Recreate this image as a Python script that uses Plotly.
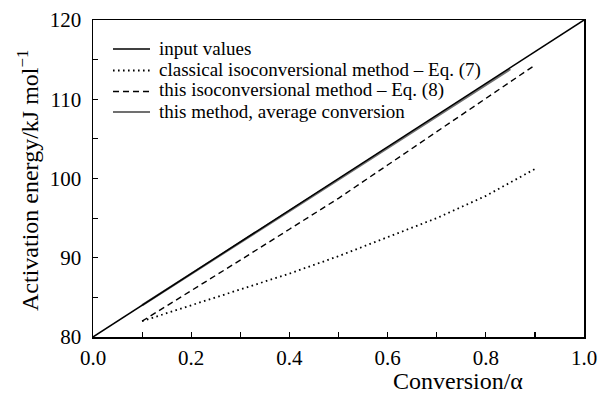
import plotly.graph_objects as go

alpha_input = [0.0, 1.0]
E_input = [80.0, 120.0]

alpha = [0.1, 0.2, 0.3, 0.4, 0.5, 0.6, 0.7, 0.8, 0.9]
E_classical = [82.0, 84.0, 86.0, 88.0, 90.2, 92.6, 95.0, 97.8, 101.2]
E_this = [82.0, 85.8, 89.7, 93.6, 97.5, 101.7, 105.9, 110.1, 114.3]

alpha_avg = [0.1, 0.2, 0.3, 0.4, 0.5, 0.6, 0.7, 0.8, 0.85]
E_avg = [84.0, 88.0, 92.0, 95.9, 99.85, 103.85, 107.85, 111.8, 113.8]

x_ticks = [0.0, 0.2, 0.4, 0.6, 0.8, 1.0]
x_ticklabels = ["0.0", "0.2", "0.4", "0.6", "0.8", "1.0"]
y_ticks = [80, 90, 100, 110, 120]

legend_names = ["input values",
                "classical isoconversional method – Eq. (7)",
                "this isoconversional method – Eq. (8)",
                "this method, average conversion"]

FONT = "Liberation Serif"

# page geometry (body margin removed by post_script)
PL, PT, PW, PH = 93, 20, 491, 317          # plot area in page pixels
FW, FH = 599, 394
ML, MT = PL, PT
MR, MB = FW - ML - PW, FH - MT - PH


def px(xp):
    return (xp - PL) / PW


def py(yp):
    return 1 - (yp - PT) / PH


styles = [dict(color="black", width=1.5),
          dict(color="black", width=1.8, dash="1.6px,3.4px"),
          dict(color="black", width=1.4, dash="6px,4px"),
          dict(color="#707070", width=2.2)]

fig = go.Figure()
fig.add_trace(go.Scatter(x=alpha_avg, y=E_avg, mode="lines", name=legend_names[3],
                         line=styles[3]))
fig.add_trace(go.Scatter(x=alpha_input, y=E_input, mode="lines", name=legend_names[0],
                         line=styles[0]))
fig.add_trace(go.Scatter(x=alpha, y=E_classical, mode="lines", name=legend_names[1],
                         line=styles[1]))
fig.add_trace(go.Scatter(x=alpha, y=E_this, mode="lines", name=legend_names[2],
                         line=styles[2]))

axis_common = dict(showline=True, linecolor="black", linewidth=1.5, mirror=True,
                   ticks="inside", ticklen=5, tickwidth=1.2, tickcolor="black",
                   showgrid=False, zeroline=False, ticklabeloverflow="allow",
                   automargin=False,
                   tickfont=dict(family=FONT, size=21, color="black"))

fig.update_xaxes(range=[0, 1], tickvals=x_ticks, ticktext=x_ticklabels,
                 minor=dict(dtick=0.1, ticks="inside", ticklen=5, tickwidth=1.2, tickcolor="black"),
                 ticklabelstandoff=1,
                 **axis_common)
fig.update_yaxes(range=[80, 120], tickvals=y_ticks,
                 minor=dict(dtick=5, ticks="inside", ticklen=5, tickwidth=1.2, tickcolor="black"),
                 ticklabelstandoff=6,
                 **axis_common)

# legend drawn as sample lines + labels
shapes = []
annotations = []
row_y = [49, 70.5, 91.5, 112]
for name, st, yy in zip(legend_names, styles, row_y):
    shapes.append(dict(type="line", xref="paper", yref="paper",
                       x0=px(113), x1=px(150), y0=py(yy), y1=py(yy),
                       line=dict(color=st["color"], width=st["width"],
                                 dash=st.get("dash", "solid"))))
    annotations.append(dict(text=name, xref="paper", yref="paper",
                            x=px(157), y=py(yy - 1), xanchor="left", yanchor="middle",
                            showarrow=False,
                            font=dict(family=FONT, size=19, color="black")))

annotations.append(dict(text="Conversion/α", xref="paper", yref="paper",
                        x=px(458), y=py(381), xanchor="center", yanchor="middle",
                        showarrow=False, font=dict(family=FONT, size=24, color="black")))
annotations.append(dict(text="Activation energy/kJ mol<sup>−1</sup>", xref="paper", yref="paper",
                        x=px(28), y=py(181), xanchor="center", yanchor="middle",
                        textangle=-90, showarrow=False,
                        font=dict(family=FONT, size=24, color="black")))

fig.update_layout(
    width=FW, height=FH,
    margin=dict(l=ML, r=MR, t=MT, b=MB, autoexpand=False),
    paper_bgcolor="white", plot_bgcolor="white",
    font=dict(family=FONT, color="black"),
    showlegend=False,
    hovermode=False,
    shapes=shapes,
    annotations=annotations,
)

fig.write_html(
    "out.html",
    config={"displayModeBar": False, "responsive": False, "staticPlot": True},
    post_script=("document.documentElement.style.margin='0';"
                 "document.body.style.margin='0';"
                 "document.documentElement.style.overflow='hidden';"
                 "document.body.style.overflow='hidden';"),
)
